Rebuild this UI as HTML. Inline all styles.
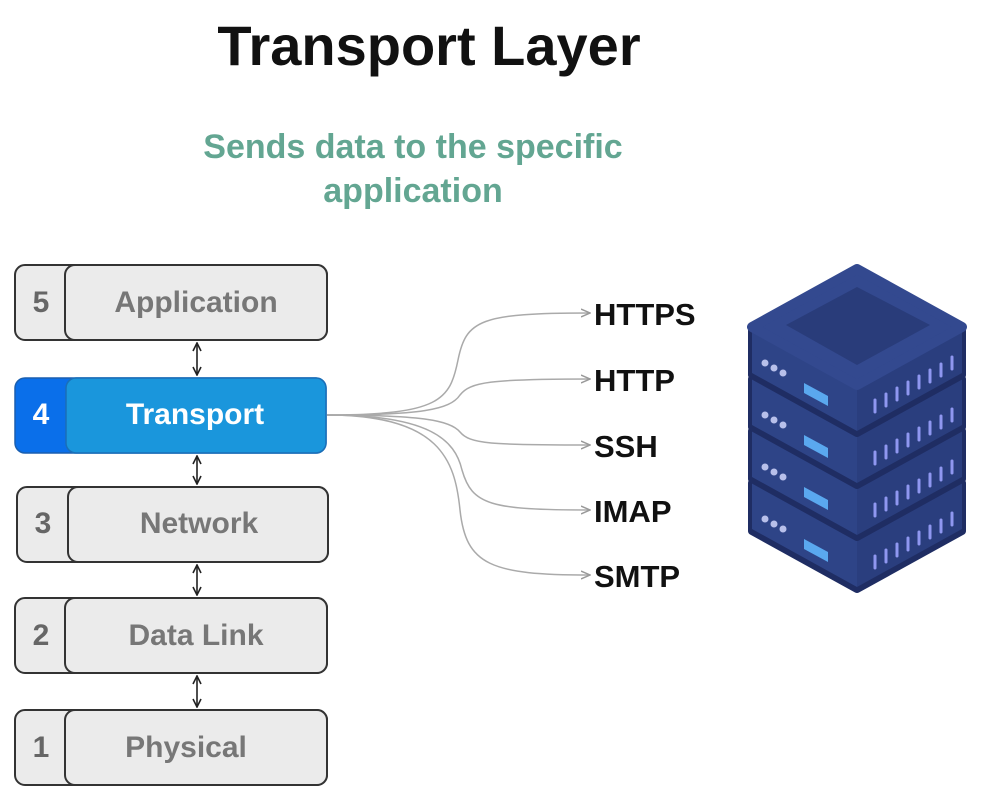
<!DOCTYPE html>
<html><head><meta charset="utf-8"><style>
html,body{margin:0;padding:0;background:#fff;}
svg{display:block;}
text{font-family:"Liberation Sans",sans-serif;font-weight:bold;}
</style></head><body>
<svg width="988" height="807" viewBox="0 0 988 807" xmlns="http://www.w3.org/2000/svg">
<defs>
<marker id="ah" markerWidth="10" markerHeight="10" refX="9" refY="5" orient="auto" markerUnits="userSpaceOnUse">
<path d="M0,1 L9,5 L0,9" fill="none" stroke="#999" stroke-width="1.5"/></marker>
<marker id="bk" markerWidth="10" markerHeight="10" refX="9" refY="5" orient="auto-start-reverse" markerUnits="userSpaceOnUse">
<path d="M1,1 L9,5 L1,9" fill="none" stroke="#222" stroke-width="1.6"/></marker>
</defs>
<text x="429" y="65" font-size="56" text-anchor="middle" fill="#111">Transport Layer</text>
<text x="413" y="158" font-size="34" text-anchor="middle" fill="#63a692">Sends data to the specific</text>
<text x="413" y="202" font-size="34" text-anchor="middle" fill="#63a692">application</text>

<g font-size="30">
<rect x="15" y="265" width="312" height="75" rx="10" fill="#ebebeb" stroke="#333" stroke-width="2"/>
<rect x="65" y="265" width="262" height="75" rx="10" fill="#ebebeb" stroke="#333" stroke-width="2"/>
<text x="41" y="312" text-anchor="middle" fill="#666">5</text>
<text x="196" y="312" text-anchor="middle" fill="#777">Application</text>

<rect x="15" y="378" width="311" height="75" rx="10" fill="#0a6fea" stroke="#1a5fb0" stroke-width="1.5"/>
<rect x="66" y="378" width="260" height="75" rx="10" fill="#1a96dc" stroke="#1a6fb8" stroke-width="1.5"/>
<text x="41" y="424" text-anchor="middle" fill="#fff">4</text>
<text x="195" y="424" text-anchor="middle" fill="#fff">Transport</text>

<rect x="17" y="487" width="311" height="75" rx="10" fill="#ebebeb" stroke="#333" stroke-width="2"/>
<rect x="68" y="487" width="260" height="75" rx="10" fill="#ebebeb" stroke="#333" stroke-width="2"/>
<text x="43" y="533" text-anchor="middle" fill="#666">3</text>
<text x="199" y="533" text-anchor="middle" fill="#777">Network</text>

<rect x="15" y="598" width="312" height="75" rx="10" fill="#ebebeb" stroke="#333" stroke-width="2"/>
<rect x="65" y="598" width="262" height="75" rx="10" fill="#ebebeb" stroke="#333" stroke-width="2"/>
<text x="41" y="645" text-anchor="middle" fill="#666">2</text>
<text x="196" y="645" text-anchor="middle" fill="#777">Data Link</text>

<rect x="15" y="710" width="312" height="75" rx="10" fill="#ebebeb" stroke="#333" stroke-width="2"/>
<rect x="65" y="710" width="262" height="75" rx="10" fill="#ebebeb" stroke="#333" stroke-width="2"/>
<text x="41" y="757" text-anchor="middle" fill="#666">1</text>
<text x="186" y="757" text-anchor="middle" fill="#777">Physical</text>
</g>
<g stroke="#222" stroke-width="1.6" marker-start="url(#bk)" marker-end="url(#bk)">
<line x1="197" y1="343" x2="197" y2="375"/>
<line x1="197" y1="456" x2="197" y2="484"/>
<line x1="197" y1="565" x2="197" y2="595"/>
<line x1="197" y1="676" x2="197" y2="707"/>
</g>

<g fill="none" stroke="#aaa" stroke-width="1.5" marker-end="url(#ah)">
<path d="M327,415 C440,415 450,400 458,360 C466,320 480,313 590,313"/>
<path d="M327,415 C420,415 450,410 460,395 C470,382 490,379 590,379"/>
<path d="M327,415 C420,415 450,420 460,432 C470,444 490,445 590,445"/>
<path d="M327,415 C430,415 455,440 462,470 C472,505 490,510 590,510"/>
<path d="M327,415 C440,415 455,460 460,510 C466,565 490,575 590,575"/>
</g>
<g font-size="31" fill="#111">
<text x="594" y="325">HTTPS</text>
<text x="594" y="391">HTTP</text>
<text x="594" y="457">SSH</text>
<text x="594" y="522">IMAP</text>
<text x="594" y="587">SMTP</text>
</g>

<g stroke-linejoin="round">
<g transform="translate(0,156)">
<polygon points="752,327 857,385 962,327 962,375 857,433 752,375" fill="#1f2d63" stroke="#1f2d63" stroke-width="8"/>
<polygon points="752,327 857,385 857,431 752,373" fill="#2e4487"/>
<polygon points="857,385 962,327 962,373 857,431" fill="#2a3e7e"/>
</g>
<g transform="translate(0,104)">
<polygon points="752,327 857,385 962,327 962,375 857,433 752,375" fill="#1f2d63" stroke="#1f2d63" stroke-width="8"/>
<polygon points="752,327 857,385 857,431 752,373" fill="#2e4487"/>
<polygon points="857,385 962,327 962,373 857,431" fill="#2a3e7e"/>
</g>
<g transform="translate(0,52)">
<polygon points="752,327 857,385 962,327 962,375 857,433 752,375" fill="#1f2d63" stroke="#1f2d63" stroke-width="8"/>
<polygon points="752,327 857,385 857,431 752,373" fill="#2e4487"/>
<polygon points="857,385 962,327 962,373 857,431" fill="#2a3e7e"/>
</g>
<g>
<polygon points="752,327 857,385 962,327 962,375 857,433 752,375" fill="#1f2d63" stroke="#1f2d63" stroke-width="8"/>
<polygon points="752,327 857,385 857,431 752,373" fill="#2e4487"/>
<polygon points="857,385 962,327 962,373 857,431" fill="#2a3e7e"/>
</g>
<polygon points="752,327 857,269 962,327 857,385" fill="#33498f" stroke="#33498f" stroke-width="10"/>
<polygon points="786,325 857,287 930,325 857,365" fill="#293c7a"/>
</g>
<g>
<g fill="#b8c0ea">
<circle cx="765" cy="363" r="3.5"/><circle cx="774" cy="368" r="3.5"/><circle cx="783" cy="373" r="3.5"/>
<circle cx="765" cy="415" r="3.5"/><circle cx="774" cy="420" r="3.5"/><circle cx="783" cy="425" r="3.5"/>
<circle cx="765" cy="467" r="3.5"/><circle cx="774" cy="472" r="3.5"/><circle cx="783" cy="477" r="3.5"/>
<circle cx="765" cy="519" r="3.5"/><circle cx="774" cy="524" r="3.5"/><circle cx="783" cy="529" r="3.5"/>
</g>
<g fill="#5aa8ef">
<polygon points="804,383 828,396 828,406 804,393"/>
<polygon points="804,435 828,448 828,458 804,445"/>
<polygon points="804,487 828,500 828,510 804,497"/>
<polygon points="804,539 828,552 828,562 804,549"/>
</g>
<g stroke="#8f97f0" stroke-width="3" stroke-linecap="round">
<path d="M875,400v12M886,394v12M897,388v12M908,382v12M919,376v12M930,370v12M941,364v12M952,357v12"/>
<path d="M875,452v12M886,446v12M897,440v12M908,434v12M919,428v12M930,422v12M941,416v12M952,409v12"/>
<path d="M875,504v12M886,498v12M897,492v12M908,486v12M919,480v12M930,474v12M941,468v12M952,461v12"/>
<path d="M875,556v12M886,550v12M897,544v12M908,538v12M919,532v12M930,526v12M941,520v12M952,513v12"/>
</g>
</g>
</svg>
</body></html>
